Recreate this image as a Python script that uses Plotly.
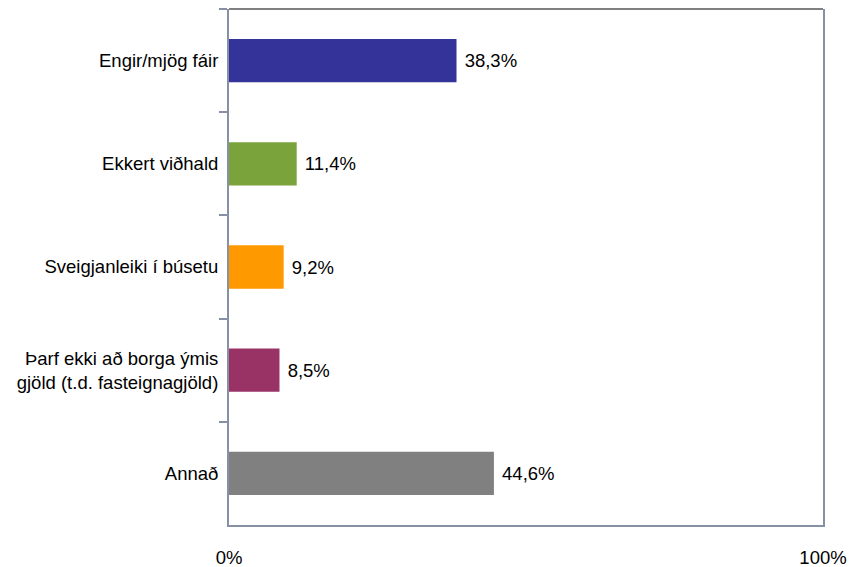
import plotly.graph_objects as go

categories = [
    "Engir/mjög fáir",
    "Ekkert viðhald",
    "Sveigjanleiki í búsetu",
    "Þarf ekki að borga ýmis<br>gjöld (t.d. fasteignagjöld)",
    "Annað",
]
values = [38.3, 11.4, 9.2, 8.5, 44.6]
colors = ["#333399", "#7BA33C", "#FF9900", "#993366", "#808080"]
x_ticks = [0, 100]
x_ticktext = ["0%", "100%"]

FONT = "Liberation Sans, Arial, sans-serif"
FS = 18.5
AXIS_COLOR = "#8791A6"

fig = go.Figure(
    go.Bar(
        y=categories,
        x=values,
        orientation="h",
        marker=dict(color=colors, line=dict(width=0)),
        width=0.42,
        text=[" " + f"{v:.1f}%".replace(".", ",") for v in values],
        textposition="outside",
        textfont=dict(family=FONT, size=FS, color="#000000"),
        cliponaxis=False,
    )
)

fig.update_layout(
    width=857,
    height=567,
    margin=dict(l=229, r=34, t=9, b=42),
    paper_bgcolor="white",
    plot_bgcolor="white",
    font=dict(family=FONT, size=FS, color="#000000"),
    showlegend=False,
    shapes=[
        dict(
            type="line", xref="paper", yref="paper",
            x0=0, x1=1, y0=1, y1=1,
            line=dict(color="#808080", width=2),
            layer="above",
        )
    ],
)

fig.update_xaxes(
    range=[0, 100],
    tickvals=x_ticks,
    ticktext=x_ticktext,
    showgrid=False,
    zeroline=False,
    showline=True,
    linecolor=AXIS_COLOR,
    linewidth=2,
    mirror=False,
    ticks="",
    ticklabelstandoff=15,
    automargin=False,
    tickfont=dict(family=FONT, size=FS),
)
fig.update_yaxes(
    autorange="reversed",
    showgrid=False,
    showline=True,
    linecolor=AXIS_COLOR,
    linewidth=2,
    mirror=True,
    ticks="outside",
    tickson="boundaries",
    ticklen=8,
    tickcolor=AXIS_COLOR,
    tickwidth=2,
    ticklabelstandoff=5,
    automargin=False,
    tickfont=dict(family=FONT, size=FS),
)

fig.write_html(
    "out.html",
    config={"displayModeBar": False},
    post_script="document.body.style.margin='0';document.body.style.padding='0';",
)
